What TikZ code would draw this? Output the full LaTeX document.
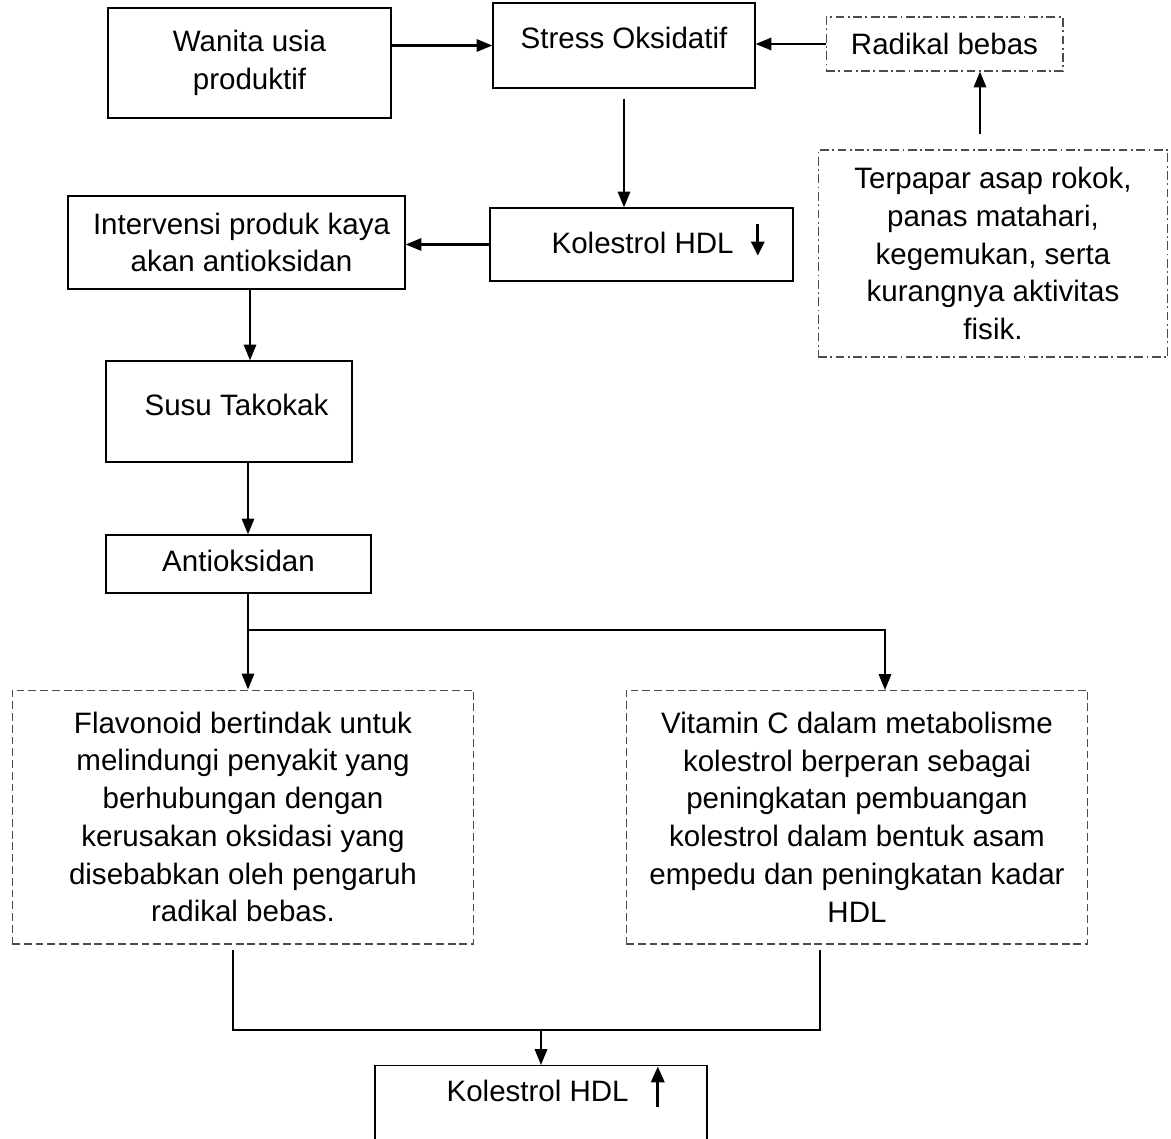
\documentclass[tikz,border=0pt]{standalone}
\usepackage{fontspec}
\setmainfont{Liberation Sans}
\usetikzlibrary{arrows.meta}
\newcommand{\hdldown}{\tikz[baseline=0pt]\draw[line width=1.6pt, -{Triangle[length=8pt, width=7.5pt]}] (0pt,17pt) -- (0pt,-1pt);}
\newcommand{\hdlup}{\tikz[baseline=0pt]\draw[line width=1.6pt, -{Triangle[length=9pt, width=7.5pt]}] (0pt,-3pt) -- (0pt,20pt);}

\begin{document}
\begin{tikzpicture}[x=0.02cm, y=-0.02cm,
	box/.style={draw, line width=0.7pt, align=center, inner sep=0pt, font=\fontsize{16.8}{21.5}\selectfont},
	dbox/.style={box, draw=black!70, line width=0.6pt, dash pattern=on 4.5pt off 2.2pt},
	ddbox/.style={box, draw=black!70, line width=0.6pt, dash pattern=on 5pt off 2pt on 1pt off 2pt},
	arr/.style={line width=1.25pt, -{Triangle[length=9pt, width=7pt]}},
	ln/.style={line width=1.25pt}]
				\useasboundingbox (0,0) rectangle (1171,1139);
				\clip (0,0) rectangle (1171,1139);
				\node[box, minimum width=5.66cm, minimum height=2.2cm] (WUP)at(249.5, 63) {Wanita usia\\produktif};
				\node[box, minimum width=5.24cm, minimum height=1.7cm, text depth=0.3cm] (SO)at(624, 45.5) {Stress Oksidatif};
				\node[ddbox, minimum width=4.74cm, minimum height=1.08cm] (RB)at(944.5, 44) {Radikal bebas};
				\node[ddbox, minimum width=7cm, minimum height=4.14cm] (TAR)at(993, 253.5) {Terpapar asap rokok,\\panas matahari,\\kegemukan, serta\\kurangnya aktivitas\\fisik.};
				\node[box, minimum width=6.06cm, minimum height=1.46cm, text depth=0.25cm] (KH1)at(641.5, 244.5) {\hspace*{0.66cm}Kolestrol HDL\hspace{0.35cm}\hdldown};
				\node[box, minimum width=6.74cm, minimum height=1.86cm] (IPA)at(236.5, 242.5) {\hspace*{0.2cm}Intervensi produk kaya\\\hspace*{0.2cm}akan antioksidan};
				\node[box, minimum width=4.92cm, minimum height=2.02cm, text depth=0.25cm] (ST)at(229, 411.5) {\hspace*{0.3cm}Susu Takokak};
				\node[box, minimum width=5.3cm, minimum height=1.16cm, text depth=0.12cm] (AO)at(238.5, 564) {Antioksidan};
				\node[dbox, minimum width=9.24cm, minimum height=5.08cm] (FL)at(243, 817) {Flavonoid bertindak untuk\\melindungi penyakit yang\\berhubungan dengan\\kerusakan oksidasi yang\\disebabkan oleh pengaruh\\radikal bebas.};
				\node[dbox, minimum width=9.24cm, minimum height=5.08cm] (VC)at(857, 817) {Vitamin C dalam metabolisme\\kolestrol berperan sebagai\\peningkatan pembuangan\\kolestrol dalam bentuk asam\\empedu dan peningkatan kadar\\HDL};
				\node[box, minimum width=6.64cm, anchor=north, text height=0.72cm, text depth=0.9cm] (KH2)at(541, 1065) {\hspace*{0.58cm}Kolestrol HDL\hspace{0.45cm}\hdlup};
				\coordinate (split) at (248, 630);
				\coordinate (VCin) at (885, 690);
				\coordinate (FLout) at (233, 950);
				\coordinate (VCout) at (820, 950);
				\coordinate (join) at (541, 1030);
				\draw[arr] (WUP.east |- SO.west) -- (SO.west);
				\draw[arr] (RB.west) -- (RB.west -| SO.east);
				\draw[arr] ([xshift=-0.26cm, yshift=0.3cm]TAR.north) -- ([xshift=-0.26cm]TAR.north |- RB.south);
				\draw[arr] ([yshift=-0.2cm]SO.south) -- (SO.south |- KH1.north);
				\draw[arr] (KH1.west) -- (KH1.west -| IPA.east);
				\draw[arr] ([xshift=0.27cm]IPA.south) -- ([xshift=0.27cm]IPA.south |- ST.north);
				\draw[arr] (ST.south -| split) -- (split |- AO.north);
				\draw[arr] (AO.south -| split) -- (split |- FL.north);
				\draw[arr] (split) -| (VCin);
				\draw[ln] (FLout) |- (join) -| (VCout);
				\draw[arr] (join) -- (KH2.north);
			\end{tikzpicture}
\end{document}
